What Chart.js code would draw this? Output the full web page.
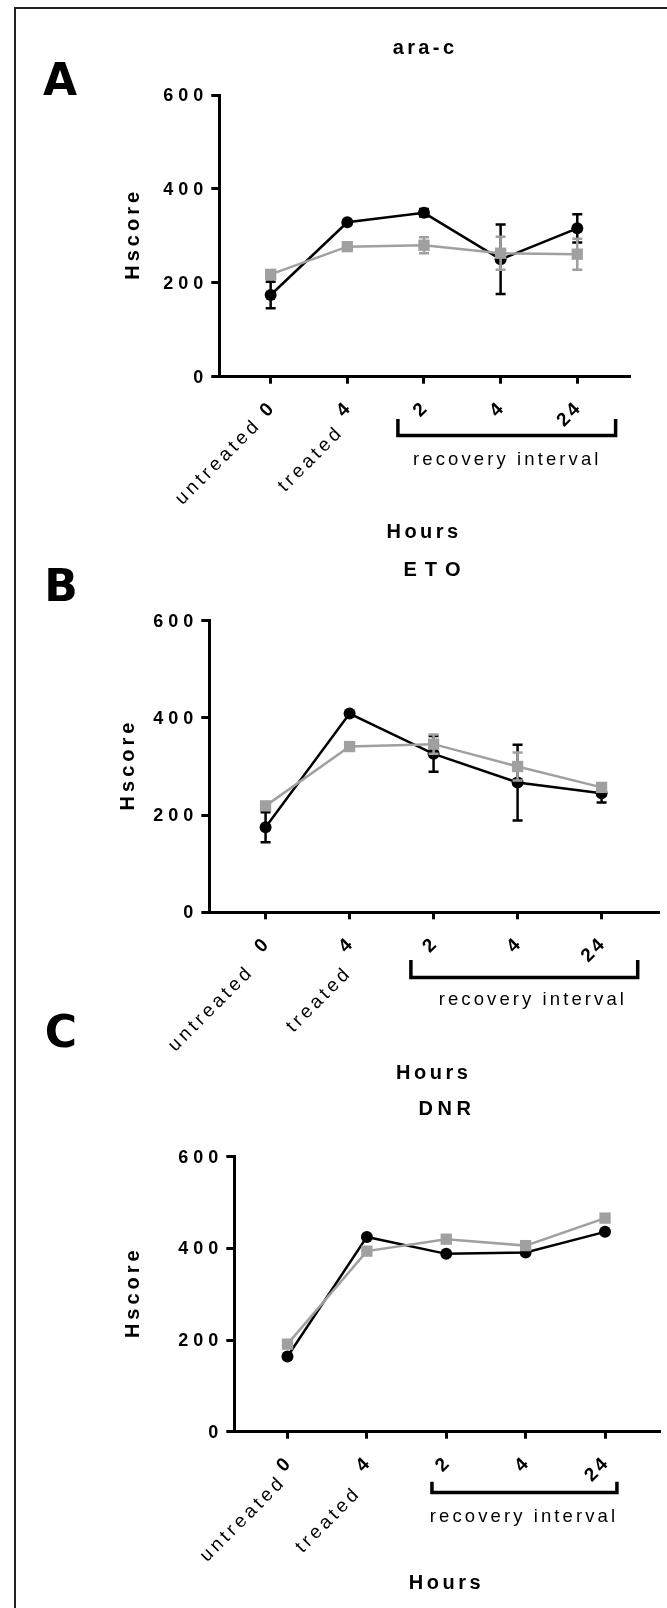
<!DOCTYPE html>
<html>
<head>
<meta charset="utf-8">
<script src="https://cdn.jsdelivr.net/npm/chart.js@4.4.1/dist/chart.umd.min.js"></script>
<style>
  body { margin: 0; background: #fff; width: 667px; height: 1608px; overflow: hidden; position: relative; }
  #frame { position: absolute; left: 14px; top: 7px; width: 700px; height: 1700px;
           border-left: 2px solid #222; border-top: 2px solid #222; }
  canvas { position: absolute; left: 0; top: 0; }
</style>
</head>
<body>
<div id="frame"></div>
<canvas id="chartA" width="667" height="1608"></canvas>
<canvas id="chartB" width="667" height="1608"></canvas>
<canvas id="chartC" width="667" height="1608"></canvas>
<script>
// x categories (hours) and the notes written in front of the first two
const hours = ["0", "4", "2", "4", "24"];
const hourNotes = ["untreated", "treated", "", "", ""];
const yTicks = [0, 200, 400, 600];

// ara-c
const aracBlack = [174, 329, 349, 250, 316];
const aracBlackErr = [28, 0, 8, 74, 30];
const aracGray = [218, 277, 280, 263, 261];
const aracGrayErr = [6, 4, 17, 35, 33];

// ETO
const etoBlack = [175, 409, 326, 267, 245];
const etoBlackErr = [31, 0, 37, 78, 19];
const etoGray = [219, 341, 346, 300, 257];
const etoGrayErr = [5, 5, 20, 29, 5];

// DNR (no error bars)
const dnrBlack = [164, 425, 388, 391, 436];
const dnrGray = [191, 394, 420, 406, 466];

const GRAY = "#A0A0A0";
const FONT = '"Liberation Sans", Arial, sans-serif';

function spacedWidth(ctx, text, sp) {
  let w = 0;
  for (const ch of text) w += ctx.measureText(ch).width + sp;
  return w - sp;
}
function drawSpaced(ctx, text, x, y, sp, align) {
  const w = spacedWidth(ctx, text, sp);
  let cx = align === "center" ? x - w / 2 : align === "right" ? x - w : x;
  ctx.textAlign = "left";
  for (const ch of text) {
    ctx.fillText(ch, cx, y);
    cx += ctx.measureText(ch).width + sp;
  }
}

function makeDecor(cfg) {
  return {
    id: "decor" + cfg.letter,
    beforeDatasetDraw(chart, args) {
      const ds = chart.data.datasets[args.index];
      if (!ds.errorBars) return;
      const xs = chart.scales.x, ys = chart.scales.y, ctx = chart.ctx;
      ctx.save();
      ctx.strokeStyle = ds.borderColor;
      ctx.lineWidth = 2.5;
      ds.data.forEach((pt, i) => {
        const e = ds.errorBars[i];
        if (!e) return;
        const px = xs.getPixelForValue(pt.x);
        const yt = ys.getPixelForValue(pt.y + e);
        const yb = ys.getPixelForValue(pt.y - e);
        ctx.beginPath();
        ctx.moveTo(px, yt); ctx.lineTo(px, yb);
        ctx.moveTo(px - 5, yt); ctx.lineTo(px + 5, yt);
        ctx.moveTo(px - 5, yb); ctx.lineTo(px + 5, yb);
        ctx.stroke();
      });
      ctx.restore();
    },
    afterDraw(chart) {
      const ctx = chart.ctx, xs = chart.scales.x, ys = chart.scales.y, a = chart.chartArea;
      ctx.save();
      ctx.fillStyle = "#000";
      ctx.textBaseline = "middle";

      // y tick labels
      ctx.font = "bold 18px " + FONT;
      ys.ticks.forEach(t => {
        drawSpaced(ctx, String(t.value), a.left - 16, ys.getPixelForValue(t.value) + 1, 5, "right");
      });

      // title
      ctx.font = "bold 20px " + FONT;
      drawSpaced(ctx, cfg.title, (a.left + a.right) / 2 + cfg.titleDx, cfg.titleY, cfg.titleSpacing, "center");

      // panel letter
      ctx.font = 'bold 44px "DejaVu Sans", sans-serif';
      drawSpaced(ctx, cfg.letter, cfg.letterX, cfg.letterY, 0, "center");

      // y axis title
      ctx.save();
      ctx.translate(cfg.hscoreX, (a.top + a.bottom) / 2);
      ctx.rotate(-Math.PI / 2);
      ctx.font = "bold 20px " + FONT;
      drawSpaced(ctx, "Hscore", 0, 0, 4, "center");
      ctx.restore();

      // rotated hour labels
      hours.forEach((h, i) => {
        const px = xs.getPixelForValue(i);
        ctx.save();
        ctx.translate(px, a.bottom + 30);
        ctx.rotate(-Math.PI / 4);
        ctx.font = "bold 19px " + FONT;
        drawSpaced(ctx, h, 0, 0, 3, "right");
        ctx.restore();
        if (hourNotes[i]) {
          const off = cfg.noteOffsets[i];
          ctx.save();
          ctx.translate(px + off[0], a.bottom + 30 + off[1]);
          ctx.rotate(-Math.PI / 4);
          ctx.font = "19px " + FONT;
          drawSpaced(ctx, hourNotes[i], 0, 0, 3.6, "right");
          ctx.restore();
        }
      });

      // recovery bracket
      const bl = xs.getPixelForValue(cfg.bracket[0]);
      const br = xs.getPixelForValue(cfg.bracket[1]);
      ctx.lineWidth = 3.5;
      ctx.strokeStyle = "#000";
      ctx.beginPath();
      ctx.moveTo(bl, cfg.bracketTop);
      ctx.lineTo(bl, cfg.bracketBottom);
      ctx.lineTo(br, cfg.bracketBottom);
      ctx.lineTo(br, cfg.bracketTop);
      ctx.stroke();

      ctx.font = "18.5px " + FONT;
      drawSpaced(ctx, "recovery interval", (bl + br) / 2 + cfg.recDx, cfg.recY, 3.1, "center");

      ctx.font = "bold 20px " + FONT;
      drawSpaced(ctx, "Hours", (a.left + a.right) / 2 + cfg.hoursDx, cfg.hoursY, 3.5, "center");
      ctx.restore();
    }
  };
}

function makePanel(cfg) {
  const toPts = arr => arr.map((v, i) => ({ x: i, y: v }));
  const ar = cfg.area;
  return new Chart(document.getElementById(cfg.canvas).getContext("2d"), {
    type: "line",
    data: {
      datasets: [
        {
          label: "Series 1",
          data: toPts(cfg.black),
          errorBars: cfg.blackErr,
          borderColor: "#000",
          backgroundColor: "#000",
          borderWidth: 2.5,
          pointStyle: "circle",
          pointRadius: 6,
          pointBorderWidth: 0,
          tension: 0,
          clip: false,
          order: 1
        },
        {
          label: "Series 2",
          data: toPts(cfg.gray),
          errorBars: cfg.grayErr,
          borderColor: GRAY,
          backgroundColor: GRAY,
          borderWidth: 2.5,
          pointStyle: "rect",
          pointRadius: 8,
          pointBorderWidth: 0,
          tension: 0,
          clip: false,
          order: 0
        }
      ]
    },
    options: {
      responsive: false,
      animation: false,
      devicePixelRatio: 1,
      layout: { padding: { left: 0, top: ar.top, right: 667 - ar.right, bottom: 0 } },
      plugins: { legend: { display: false }, tooltip: { enabled: false } },
      scales: {
        x: {
          type: "linear",
          min: -0.67,
          max: 4.68,
          afterBuildTicks: s => { s.ticks = hours.map((_, i) => ({ value: i })); },
          afterFit: s => { s.height = 1608 - ar.bottom; },
          ticks: { display: false },
          grid: { display: true, drawOnChartArea: false, drawTicks: true, tickLength: 7,
                  color: "#000", lineWidth: 3, tickWidth: 3, tickColor: "#000" },
          border: { display: true, color: "#000", width: 3 }
        },
        y: {
          min: 0,
          max: 600,
          afterBuildTicks: s => { s.ticks = yTicks.map(v => ({ value: v })); },
          afterFit: s => { s.width = ar.left; },
          ticks: { display: false },
          grid: { display: true, drawOnChartArea: false, drawTicks: true, tickLength: 8,
                  color: "#000", lineWidth: 3, tickWidth: 3, tickColor: "#000" },
          border: { display: true, color: "#000", width: 3 }
        }
      }
    },
    plugins: [makeDecor(cfg)]
  });
}

makePanel({
  canvas: "chartA", letter: "A", title: "ara-c", titleSpacing: 3.4, titleDx: -1, titleY: 48,
  letterX: 60, letterY: 84, hscoreX: 133,
  area: { left: 219.3, right: 629.4, top: 95, bottom: 376.7 },
  black: aracBlack, blackErr: aracBlackErr, gray: aracGray, grayErr: aracGrayErr,
  noteOffsets: [[-15, 18], [-9, 25]],
  bracket: [1.66, 4.5], bracketTop: 419, bracketBottom: 435.5, recDx: -1, recY: 460,
  hoursDx: -2, hoursY: 532
});

makePanel({
  canvas: "chartB", letter: "B", title: "ETO", titleSpacing: 8, titleDx: -2, titleY: 570,
  letterX: 61, letterY: 590, hscoreX: 128,
  area: { left: 209.3, right: 658.7, top: 620.7, bottom: 912.3 },
  black: etoBlack, blackErr: etoBlackErr, gray: etoGray, grayErr: etoGrayErr,
  noteOffsets: [[-17, 29], [-3, 30]],
  bracket: [1.73, 4.43], bracketTop: 960, bracketBottom: 977.5, recDx: 7, recY: 1000,
  hoursDx: -2, hoursY: 1073
});

makePanel({
  canvas: "chartC", letter: "C", title: "DNR", titleSpacing: 4.6, titleDx: -2, titleY: 1109,
  letterX: 61, letterY: 1036, hscoreX: 133,
  area: { left: 234.3, right: 663.6, top: 1156.7, bottom: 1431.7 },
  black: dnrBlack, blackErr: null, gray: dnrGray, grayErr: null,
  noteOffsets: [[-7, 20], [-11, 31]],
  bracket: [1.82, 4.15], bracketTop: 1481.7, bracketBottom: 1492.5, recDx: -2, recY: 1516.7,
  hoursDx: -2, hoursY: 1583
});
</script>
</body>
</html>
